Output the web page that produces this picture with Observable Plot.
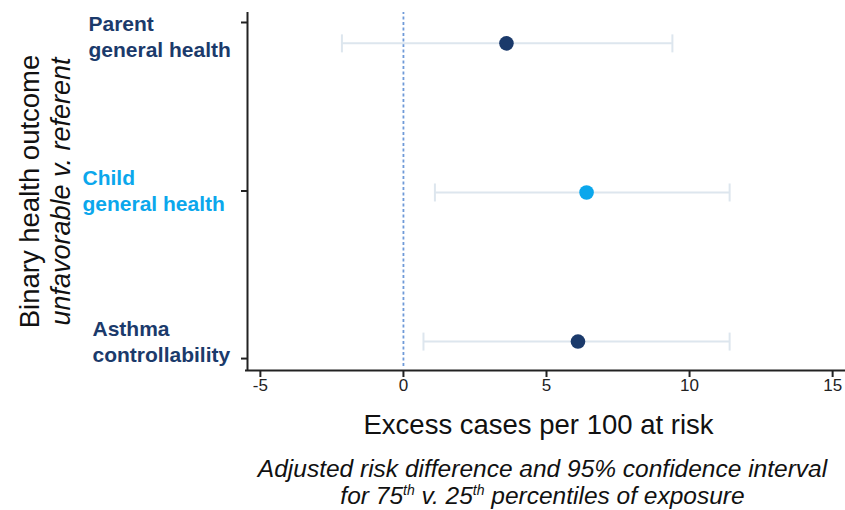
<!DOCTYPE html>
<html>
<head>
<meta charset="utf-8">
<script src="https://cdn.jsdelivr.net/npm/d3@7"></script>
<script src="https://cdn.jsdelivr.net/npm/@observablehq/plot@0.6"></script>
<style>
  body { margin: 0; background: #fff; font-family: Arial, "Liberation Sans", sans-serif; }
  #caption { margin-left: 240px; width: 605px; text-align: center; font-style: italic;
             font-size: 24.5px; line-height: 27px; color: #111; margin-top: 3px; }
  #caption sup { font-size: 14px; vertical-align: 9px; line-height: 0; }
</style>
</head>
<body>
<div id="chart"></div>
<div id="caption">Adjusted risk difference and 95% confidence interval<br>for 75<sup>th</sup> v. 25<sup>th</sup> percentiles of exposure</div>
<script>
// ---- data ----
const outcomes = ["Parent general health", "Child general health", "Asthma controllability"];
const labels = ["Parent\ngeneral health", "Child\ngeneral health", "Asthma\ncontrollability"];
const yPos = [3, 2, 1];
const estimate = [3.6, 6.4, 6.1];
const lower = [-2.15, 1.1, 0.7];
const upper = [9.4, 11.4, 11.4];
const xTicks = [-5, 0, 5, 10, 15];
const yTicks = [3.14, 2.01, 0.886];
const xTitle = "Excess cases per 100 at risk";
const yTitle1 = "Binary health outcome";
const yTitle2 = "unfavorable v. referent";

const data = outcomes.map((o, i) => ({
  outcome: o, label: labels[i], y: yPos[i], est: estimate[i], lo: lower[i], hi: upper[i]
}));

const navy = "#1b3a6b";
const sky = "#0ba7ec";
const colorOf = d => d.outcome.startsWith("Child") ? sky : navy;

const xDomain = [-5.45, 15.45];
const yDomain = [0.806, 3.207];

const capSymbol = {
  draw(context, size) {
    const h = Math.sqrt(size / Math.PI);
    context.moveTo(0, -h);
    context.lineTo(0, h);
  }
};

const labelOffsets = [{dx: -159, dy: -8}, {dx: -165, dy: -3}, {dx: -155, dy: -1}];

const chart = Plot.plot({
  width: 845,
  height: 452,
  marginLeft: 247,
  marginRight: 0,
  marginTop: 12,
  marginBottom: 82,
  style: { fontFamily: "Arial, 'Liberation Sans', sans-serif", background: "#fff", overflow: "visible" },
  x: { domain: xDomain, label: null },
  y: { domain: yDomain, label: null },
  marks: [
    // zero reference
    Plot.ruleX([0], { stroke: "#6f9ad8", strokeWidth: 1.8, strokeDasharray: "3,2.5", y1: yDomain[0], y2: yDomain[1], insetTop: -4 }),
    // confidence intervals
    Plot.ruleY(data, { y: "y", x1: "lo", x2: "hi", stroke: "#dde6ee", strokeWidth: 2 }),
    Plot.dot(data, { x: "lo", y: "y", symbol: capSymbol, r: 9, stroke: "#dde6ee", fill: "none", strokeWidth: 2 }),
    Plot.dot(data, { x: "hi", y: "y", symbol: capSymbol, r: 9, stroke: "#dde6ee", fill: "none", strokeWidth: 2 }),
    // estimates
    Plot.dot(data, { x: "est", y: "y", r: 7.3, fill: colorOf, stroke: "none" }),
    // axes
    Plot.axisX({ ticks: xTicks, tickFormat: d => String(d), tickSize: 7, tickPadding: 1, fontSize: 17, stroke: "#222", strokeWidth: 2, fill: "#222", label: null }),
    Plot.axisY({ ticks: yTicks, tickSize: 6, tickFormat: () => "", stroke: "#222", strokeWidth: 2, label: null }),
    Plot.ruleX([xDomain[0]], { y1: yDomain[0], y2: yDomain[1], stroke: "#222", strokeWidth: 2 }),
    Plot.ruleY([yDomain[0]], { x1: xDomain[0], x2: xDomain[1], stroke: "#222", strokeWidth: 2, insetLeft: -2 }),
    // outcome labels
    ...data.map((d, i) => Plot.text([d], {
      y: "y", text: "label", frameAnchor: "left", textAnchor: "start", lineAnchor: "middle",
      dx: labelOffsets[i].dx, dy: labelOffsets[i].dy, fill: colorOf(d),
      fontSize: 21, fontWeight: "bold", lineHeight: 1.24
    })),
    // y titles
    Plot.text([yTitle1], { frameAnchor: "left", textAnchor: "middle", rotate: -90, dx: -217, dy: 0, fontSize: 27.5, fill: "#111", text: d => d }),
    Plot.text([yTitle2], { frameAnchor: "left", textAnchor: "middle", rotate: -90, dx: -186, dy: 0, fontSize: 27, fontStyle: "italic", fill: "#111", text: d => d }),
    // x title
    Plot.text([xTitle], { frameAnchor: "bottom", dx: -8, dy: 63, fontSize: 27.5, fill: "#111", text: d => d })
  ]
});
document.getElementById("chart").appendChild(chart);
</script>
</body>
</html>
